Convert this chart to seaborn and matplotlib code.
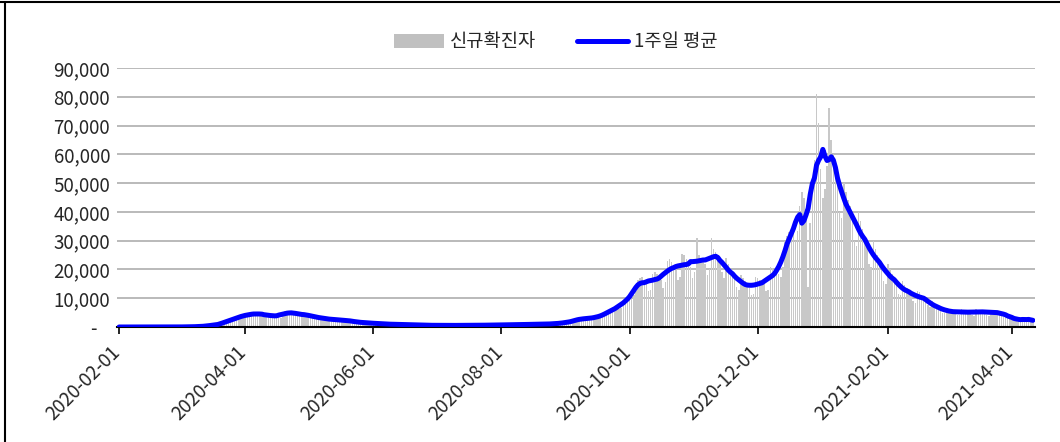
import matplotlib
matplotlib.use('Agg')
import matplotlib.pyplot as plt
import matplotlib.transforms as mtransforms
from matplotlib.ticker import FuncFormatter
from matplotlib.lines import Line2D
from matplotlib.patches import Patch
import numpy as np
import pandas as pd
import seaborn as sns

# 일별 신규확진자 (2020-02-01 ~ 2021-04-11), 그림에서 읽은 값
feb20 = [0, 0, 0, 0, 0, 0, 0,
         1, 0, 0, 0, 0, 0, 0,
         0, 0, 0, 0, 0, 0, 0,
         1, 2, 4, 6, 8, 12, 15,
         18]
mar20 = [20, 30, 45, 50, 60, 70, 60,
         90, 130, 170, 200, 260, 300, 280,
         400, 600, 750, 800, 900, 950, 850,
         1300, 2100, 2500, 2600, 2800, 2900, 2400,
         2900, 4000, 4300]
apr20 = [4400, 4600, 4300, 3700,
         3900, 5000, 5100, 5000, 4700, 4300, 3600,
         3500, 3700, 4400, 4300, 4100, 3800, 3300,
         3700, 5400, 5600, 5500, 5300, 4900, 3800,
         3900, 4800, 4900, 4600, 4400]
may20 = [4100, 3400,
         3100, 3900, 3800, 3600, 3300, 2900, 2400,
         2300, 3000, 3000, 2900, 2700, 2500, 2100,
         1900, 2600, 2500, 2400, 2200, 2000, 1600,
         1500, 1700, 1800, 1700, 1600, 1400, 1200,
         1100]
jun20 = [1500, 1400, 1300, 1200, 1100, 900, 800,
         1200, 1100, 1000, 950, 900, 750, 650,
         950, 900, 850, 800, 750, 600, 550,
         800, 750, 700, 650, 600, 500, 450,
         700, 650]
jul20 = [620, 600, 560, 450,
         420, 650, 640, 600, 580, 540, 440,
         420, 680, 660, 640, 620, 580, 480,
         460, 720, 700, 680, 660, 620, 500,
         480, 780, 760, 740, 720, 680]
aug20 = [560,
         540, 900, 880, 860, 840, 800, 640,
         620, 1000, 980, 960, 940, 900, 720,
         700, 1100, 1080, 1060, 1040, 1000, 800,
         780, 1200, 1200, 1200, 1250, 1300, 1100,
         1100, 1600]
sep20 = [1700, 1800, 2000, 2100, 1900,
         2100, 3000, 3100, 3200, 3100, 2900, 2500,
         2600, 3500, 3600, 3800, 4000, 4100, 3700,
         4200, 5600, 6000, 6500, 6800, 7000, 6200,
         6600, 9000, 9500, 9800]
oct20 = [10500, 11500, 11000,
         12500, 16500, 17000, 17500, 16500, 15000, 12500,
         13000, 18500, 19000, 18500, 17500, 16500, 13500,
         15500, 23000, 23500, 22500, 21500, 20000, 16500,
         17500, 25500, 25000, 23500, 22500, 21000, 17000]
nov20 = [19000, 31000, 25000, 24000, 23000, 22000, 18000,
         20000, 31000, 27000, 26000, 25000, 24000, 19000,
         17000, 24000, 22000, 20000, 19000, 17500, 14000,
         13000, 18000, 17000, 16000, 15000, 13500, 11000,
         11500, 17500]
dec20 = [17000, 16500, 16000, 15000, 12500,
         13000, 21000, 20500, 20000, 19500, 18500, 17500,
         21000, 30000, 31500, 33000, 34500, 35000, 30000,
         33500, 42000, 47000, 45000, 41000, 14000, 36000,
         47500, 58000, 81000, 71000, 55000]
jan21 = [45000, 48000,
         56000, 76000, 65000, 60000, 57000, 52000, 40000,
         38000, 50000, 47000, 44000, 42000, 38000, 30000,
         28000, 40000, 37000, 34000, 31000, 28000, 22000,
         21000, 30000, 27000, 25000, 23000, 21000, 16000,
         15000]
feb21 = [22000, 20000, 18500, 17000, 15000, 11500, 11000,
         16000, 14500, 13500, 12500, 11500, 9000, 8500,
         12500, 12000, 11000, 10500, 9500, 7500, 7000,
         9000, 8000, 7500, 7000, 6500, 5000, 4800]
mar21 = [6500, 6000, 5800, 5600, 5200, 4200, 4000,
         6200, 5900, 5600, 5400, 5000, 4100, 3900,
         6300, 6000, 5700, 5500, 5200, 4200, 3900,
         6000, 5700, 5500, 5300, 4900, 4000, 3600,
         4800, 4500, 4200]
apr21 = [3600, 2200, 2100, 1900,
         2300, 3400, 3100, 2900, 2600, 2000, 1800]

tick_dates = ['2020-02-01', '2020-04-01', '2020-06-01', '2020-08-01',
              '2020-10-01', '2020-12-01', '2021-02-01', '2021-04-01']
y_ticks = [0, 10000, 20000, 30000, 40000, 50000, 60000, 70000, 80000, 90000]

cases = (feb20 + mar20 + apr20 + may20 + jun20 + jul20 + aug20 + sep20
         + oct20 + nov20 + dec20 + jan21 + feb21 + mar21 + apr21)
dates = pd.date_range('2020-02-01', periods=len(cases), freq='D')
df = pd.DataFrame({'day': np.arange(len(cases)), 'cases': cases})
df['avg'] = df['cases'].rolling(7, center=True, min_periods=1).mean()

sns.set_theme(style='white')
plt.rcParams['font.family'] = ['Noto Sans CJK KR', 'DejaVu Sans']

W, H = 1060, 442
fig = plt.figure(figsize=(W / 100, H / 100), dpi=100)
ax = fig.add_axes([117 / W, 1 - 327 / H, (1035 - 117) / W, (327 - 68) / H])

sns.barplot(data=df, x='day', y='cases', color='#c8c8c8', saturation=1,
            width=0.7, linewidth=0, errorbar=None, ax=ax, zorder=2)
sns.lineplot(data=df, x='day', y='avg', color='#0000ff', linewidth=3.6,
             ax=ax, zorder=3)

ax.set_xlim(-1, 436)
ax.set_ylim(0, 90000)
ax.set_yticks(y_ticks)
ax.yaxis.set_major_formatter(FuncFormatter(lambda v, _: '-   ' if v == 0 else f'{v:,.0f}'))
ax.yaxis.grid(True, color='#b4b4b4', linewidth=1.3)
ax.set_axisbelow(True)

pos = [dates.get_loc(pd.Timestamp(d)) for d in tick_dates]
ax.set_xticks(pos)
ax.set_xticklabels(tick_dates, rotation=45, ha='right', rotation_mode='anchor')
ax.tick_params(axis='x', bottom=True, length=5, width=1.2, color='black',
               direction='out', pad=6, labelsize=13.5)
ax.tick_params(axis='y', left=False, length=0, pad=5, labelsize=13.5)
shift = mtransforms.ScaledTranslation(-9 / 100, 0, fig.dpi_scale_trans)
for lab in ax.get_xticklabels():
    lab.set_transform(lab.get_transform() + shift)
ax.set_xlabel('')
ax.set_ylabel('')

for s in ['top', 'right', 'left']:
    ax.spines[s].set_visible(False)
ax.spines['bottom'].set_color('black')
ax.spines['bottom'].set_linewidth(1.5)

handles = [Patch(facecolor='#c0c0c0', edgecolor='none'),
           Line2D([], [], color='#0000ff', linewidth=3.6)]
fig.legend(handles, ['신규확진자', '1주일 평균'], loc='center',
           bbox_to_anchor=(0.524, 1 - 42 / H), ncol=2, frameon=False,
           fontsize=13.5, handlelength=2.7, columnspacing=2.2, handletextpad=0.3)

# 차트 테두리
fig.add_artist(Line2D([0, 1], [1 - 2 / H, 1 - 2 / H], transform=fig.transFigure,
                      color='black', linewidth=1.5))
fig.add_artist(Line2D([5 / W, 5 / W], [0, 1 - 2 / H], transform=fig.transFigure,
                      color='black', linewidth=1.5))

fig.savefig('out.png', dpi=100)
